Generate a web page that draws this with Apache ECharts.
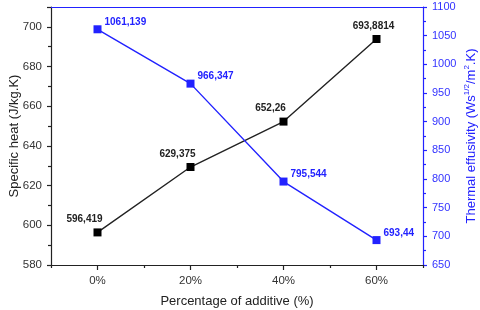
<!DOCTYPE html>
<html>
<head>
<meta charset="utf-8">
<script src="https://cdn.jsdelivr.net/npm/echarts@6/dist/echarts.min.js"></script>
<style>html,body{margin:0;padding:0;background:#fff}#c{width:480px;height:310px}</style>
</head>
<body>
<div id="c"></div>
<script>
// ---- data ----
var categories = ['0%', '20%', '40%', '60%'];
var specificHeat = [596.419, 629.375, 652.26, 693.8814];
var specificHeatLabels = ['596,419', '629,375', '652,26', '693,8814'];
var effusivity = [1061.139, 966.347, 795.544, 693.44];
var effusivityLabels = ['1061,139', '966,347', '795,544', '693,44'];
var leftTicks = {min: 580, max: 710, interval: 20};
var rightTicks = {min: 650, max: 1100, interval: 50};

// ---- styles ----
var BLUE = '#2222ff';
var DARK = '#222222';
var FONT = 'Liberation Sans';
var blackLabelOffsets = [[-13, 0], [-13, 0], [-13, 0], [-3, 0]];

var chart = echarts.init(document.getElementById('c'), null, {renderer: 'canvas'});

var shData = specificHeat.map(function (v, i) {
  return {value: v, label: {offset: blackLabelOffsets[i], formatter: specificHeatLabels[i]}};
});
var efData = effusivity.map(function (v, i) {
  return {value: v, label: {formatter: effusivityLabels[i]}};
});

chart.setOption({
  animation: false,
  backgroundColor: '#fff',
  textStyle: {fontFamily: FONT},
  grid: {left: 51, right: 57, top: 7, bottom: 45, containLabel: false, outerBoundsMode: 'none'},
  xAxis: [
    {
      type: 'category', data: categories, boundaryGap: true, position: 'bottom',
      axisLine: {lineStyle: {color: DARK, width: 1.2}},
      axisTick: {show: true, alignWithLabel: true, length: 5, lineStyle: {color: DARK, width: 1.2}},
      axisLabel: {color: '#333', fontSize: 11.5, margin: 10, fontFamily: FONT},
      name: 'Percentage of additive (%)', nameLocation: 'middle', nameGap: 30, nameMoveOverlap: false,
      nameTextStyle: {color: '#222', fontSize: 13, fontFamily: FONT},
      splitLine: {show: false}
    },
    {
      type: 'category', data: categories, boundaryGap: true, position: 'bottom', gridIndex: 0,
      axisLine: {show: false},
      axisTick: {show: true, alignWithLabel: false, length: 3, lineStyle: {color: DARK, width: 1.2}},
      axisLabel: {show: false}, splitLine: {show: false}
    },
    {
      type: 'category', data: categories, boundaryGap: true, position: 'top',
      axisLine: {lineStyle: {color: BLUE, width: 1.2}},
      axisTick: {show: false},
      axisLabel: {show: false}, splitLine: {show: false}
    }
  ],
  yAxis: [
    {
      type: 'value', position: 'left', min: leftTicks.min, max: leftTicks.max, interval: leftTicks.interval,
      axisLine: {show: true, lineStyle: {color: DARK, width: 1.2}},
      axisTick: {show: true, length: 4, lineStyle: {color: DARK, width: 1.2}},
      minorTick: {show: true, splitNumber: 2, length: 3, lineStyle: {color: DARK, width: 1.2}},
      axisLabel: {color: '#333', fontSize: 11.5, margin: 9, fontFamily: FONT, showMaxLabel: false,
        formatter: function (v) { return String(v); }},
      splitLine: {show: false},
      name: 'Specific heat (J/kg.K)', nameLocation: 'middle', nameGap: 30, nameMoveOverlap: false,
      nameTextStyle: {color: '#222', fontSize: 13, fontFamily: FONT}
    },
    {
      type: 'value', position: 'right', min: rightTicks.min, max: rightTicks.max, interval: rightTicks.interval,
      axisLine: {show: true, lineStyle: {color: BLUE, width: 1.2}},
      axisTick: {show: true, length: 4, lineStyle: {color: BLUE, width: 1.2}},
      minorTick: {show: true, splitNumber: 2, length: 3, lineStyle: {color: BLUE, width: 1.2}},
      axisLabel: {color: '#3333ff', fontSize: 11, margin: 9, fontFamily: FONT,
        formatter: function (v) { return String(v); }},
      splitLine: {show: false},
      name: '{a|Thermal effusivity (Ws}{s|1/2}{a|/m}{s|2}{a|.K)}',
      nameLocation: 'middle', nameGap: 40, nameMoveOverlap: false,
      nameTextStyle: {
        color: BLUE, fontSize: 13, fontFamily: FONT,
        rich: {
          a: {color: BLUE, fontSize: 13, fontFamily: FONT, lineHeight: 15, verticalAlign: 'bottom'},
          s: {color: BLUE, fontSize: 8, fontFamily: FONT, lineHeight: 15, verticalAlign: 'top'}
        }
      }
    }
  ],
  series: [
    {
      type: 'line', xAxisIndex: 0, yAxisIndex: 0, data: shData,
      symbol: 'rect', symbolSize: 8, z: 3,
      lineStyle: {color: DARK, width: 1.4},
      itemStyle: {color: '#000'},
      label: {show: true, position: 'top', distance: 4, color: '#222', fontSize: 10, fontWeight: 'bold', fontFamily: FONT}
    },
    {
      type: 'line', xAxisIndex: 0, yAxisIndex: 1, data: efData,
      symbol: 'rect', symbolSize: 8, z: 3,
      lineStyle: {color: BLUE, width: 1.4},
      itemStyle: {color: BLUE},
      label: {show: true, position: 'right', distance: 3, offset: [0, -7], color: BLUE, fontSize: 10, fontWeight: 'bold', fontFamily: FONT}
    }
  ]
});
</script>
</body>
</html>
